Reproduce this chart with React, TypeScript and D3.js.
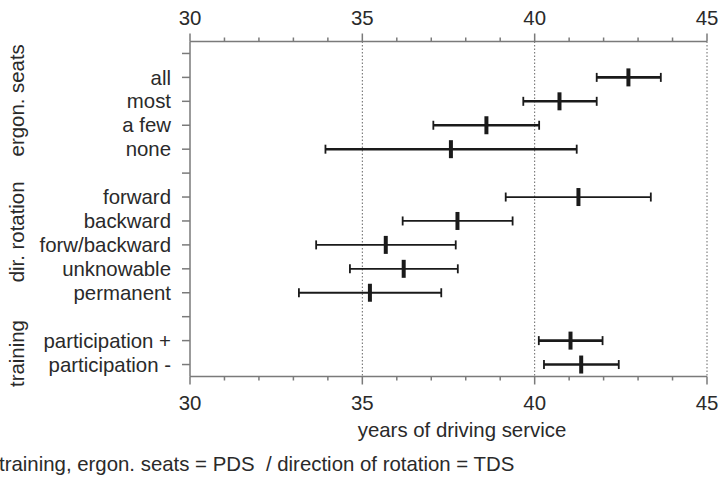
import React from "react";
import * as d3 from "d3";

const categories = ["_g1", "all", "most", "a few", "none", "_g2", "forward", "backward", "forw/backward", "unknowable", "permanent", "_g3", "participation +", "participation -"];
const items = ["all", "most", "a few", "none", "forward", "backward", "forw/backward", "unknowable", "permanent", "participation +", "participation -"];
const means = [42.72, 40.72, 38.6, 37.57, 41.27, 37.76, 35.68, 36.2, 35.22, 41.04, 41.35];
const lows = [41.8, 39.67, 37.06, 33.93, 39.16, 36.17, 33.66, 34.64, 33.16, 40.12, 40.27];
const highs = [43.66, 41.8, 40.13, 41.22, 43.37, 39.36, 37.71, 37.77, 37.29, 41.97, 42.44];
const itemGroups = ["seats", "seats", "seats", "seats", "rot", "rot", "rot", "rot", "rot", "train", "train"];
const groupNames = ["ergon. seats", "dir. rotation", "training"];
const groupSpans = [["_g1", "none"], ["_g2", "permanent"], ["participation +", "participation -"]];
const xDomain = [30, 45];
const majorTicks = [30, 35, 40, 45];
const gridTicks = [35, 40, 45];
const xTitle = "years of driving service";
const footer = "training, ergon. seats = PDS  / direction of rotation = TDS";

const W = 720, H = 481;
const left = 190, right = 707, top = 41.5, bottom = 376.5;
const FONT = "'Liberation Sans', Arial, Helvetica, sans-serif";
const AXIS = "#7a7a7a";
const TXT = "#2a2a2a";

export default function App() {
  const x = d3.scaleLinear().domain(xDomain).range([left, right]);
  const y = d3.scaleBand().domain(categories).range([top, bottom]).padding(0);
  const yc = (c: string) => (y(c) as number) + y.bandwidth() / 2;
  const minor = d3.range(xDomain[0], xDomain[1] + 1, 1);
  const fs = 20.4;

  return (
    <svg width={W} height={H} style={{ position: "absolute", left: 0, top: 0, background: "#fff" }} fontFamily={FONT}>
      <rect x={0} y={0} width={W} height={H} fill="#fff" />
      {gridTicks.map((t) => (
        <line key={"g" + t} x1={x(t)} x2={x(t)} y1={top} y2={bottom} stroke="#666" strokeWidth={1} strokeDasharray="1.5,2" />
      ))}
      <line x1={left} x2={right} y1={top} y2={top} stroke={AXIS} strokeWidth={1.5} />
      <line x1={left} x2={right} y1={bottom} y2={bottom} stroke={AXIS} strokeWidth={1.5} />
      <line x1={left} x2={left} y1={top} y2={bottom} stroke={AXIS} strokeWidth={1.5} />
      {minor.map((t) => {
        const major = majorTicks.includes(t);
        const len = major ? 8 : 4;
        return (
          <g key={"t" + t}>
            <line x1={x(t)} x2={x(t)} y1={top} y2={top - len} stroke={AXIS} strokeWidth={1.5} />
            <line x1={x(t)} x2={x(t)} y1={bottom} y2={bottom + len} stroke={AXIS} strokeWidth={1.5} />
          </g>
        );
      })}
      {majorTicks.map((t) => (
        <g key={"l" + t} fontSize={fs} fill={TXT} textAnchor="middle">
          <text x={x(t)} y={25}>{t}</text>
          <text x={x(t)} y={410}>{t}</text>
        </g>
      ))}
      {categories.map((c) => (
        <g key={"y" + c}>
          <line x1={left} x2={left - 8} y1={yc(c)} y2={yc(c)} stroke={AXIS} strokeWidth={1.5} />
          {!c.startsWith("_") && (
            <text x={171} y={yc(c)} dy="0.35em" textAnchor="end" fontSize={fs} fill={TXT}>{c}</text>
          )}
        </g>
      ))}
      {groupNames.map((g, i) => {
        const cy = (yc(groupSpans[i][0]) + yc(groupSpans[i][1])) / 2 + (i === 2 ? 1 : -1);
        return (
          <text key={g} transform={`translate(24,${cy}) rotate(-90)`} textAnchor="middle" fontSize={fs} fill={TXT}>{g}</text>
        );
      })}
      {items.map((it, i) => {
        const cy = yc(it);
        const thick = itemGroups[i] !== "rot";
        const sw = thick ? 2.6 : 1.8;
        return (
          <g key={"e" + it} stroke="#1a1a1a">
            <line x1={x(lows[i])} x2={x(highs[i])} y1={cy} y2={cy} strokeWidth={sw} />
            <line x1={x(lows[i])} x2={x(lows[i])} y1={cy - 4.5} y2={cy + 4.5} strokeWidth={1.8} />
            <line x1={x(highs[i])} x2={x(highs[i])} y1={cy - 4.5} y2={cy + 4.5} strokeWidth={1.8} />
            <line x1={x(means[i])} x2={x(means[i])} y1={cy - 9} y2={cy + 9} strokeWidth={4} />
          </g>
        );
      })}
      <text x={462} y={437} textAnchor="middle" fontSize={fs} fill={TXT}>{xTitle}</text>
      <text x={-1} y={471} fontSize={fs} fill={TXT} style={{ whiteSpace: "pre" }} xmlSpace="preserve">{footer}</text>
    </svg>
  );
}
